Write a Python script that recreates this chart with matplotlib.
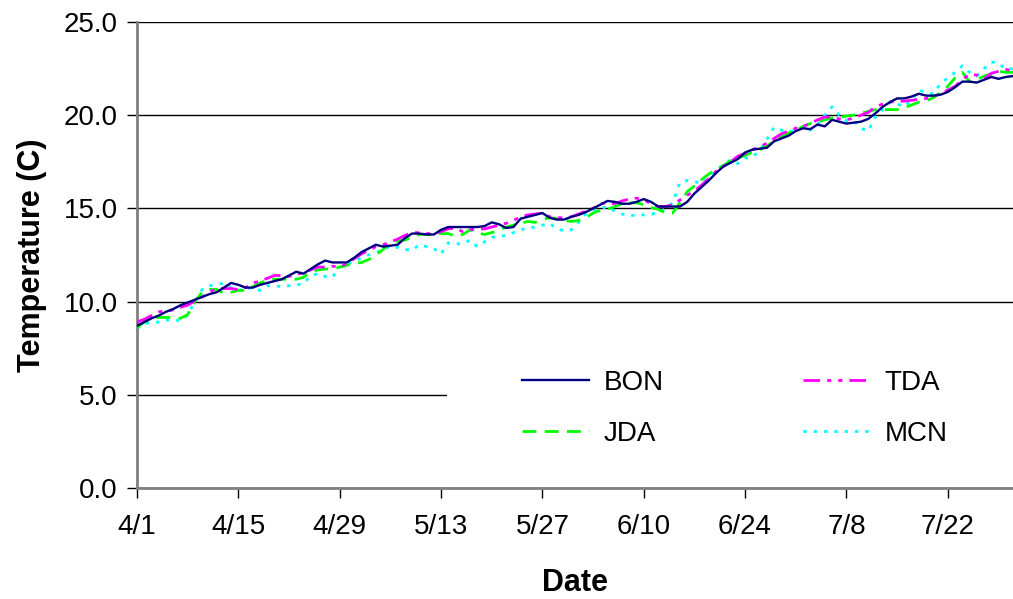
import numpy as np
import matplotlib
matplotlib.use('Agg')
import matplotlib.pyplot as plt
from matplotlib.patches import Rectangle

plt.rcParams['font.family'] = ['Liberation Sans', 'DejaVu Sans']

# days since 4/1
tick_days = [0, 14, 28, 42, 56, 70, 84, 98, 112]
tick_labels = ['4/1', '4/15', '4/29', '5/13', '5/27', '6/10', '6/24', '7/8', '7/22']

BON = [8.7, 8.9, 9.1, 9.25, 9.45, 9.6, 9.8, 9.95, 10.1, 10.25,
       10.4, 10.5, 10.75, 11.0, 10.9, 10.75, 10.75, 10.9, 11.0, 11.1,
       11.2, 11.4, 11.6, 11.5, 11.75, 12.0, 12.2, 12.1, 12.1, 12.1,
       12.35, 12.65, 12.85, 13.05, 12.95, 13.0, 13.05, 13.4, 13.65, 13.65,
       13.6, 13.6, 13.85, 14.0, 14.0, 14.0, 14.0, 14.0, 14.05, 14.25,
       14.15, 13.95, 14.0, 14.45, 14.55, 14.65, 14.75, 14.5, 14.4, 14.4,
       14.55, 14.65, 14.8, 15.0, 15.2, 15.4, 15.35, 15.25, 15.25, 15.35,
       15.5, 15.35, 15.1, 15.1, 15.1, 15.1, 15.35, 15.8, 16.15, 16.5,
       16.9, 17.25, 17.45, 17.65, 18.0, 18.15, 18.2, 18.25, 18.6, 18.75,
       18.9, 19.15, 19.3, 19.25, 19.5, 19.4, 19.75, 19.65, 19.55, 19.6,
       19.65, 19.8, 20.1, 20.45, 20.7, 20.9, 20.9, 21.0, 21.15, 21.05,
       21.05, 21.1, 21.25, 21.5, 21.8, 21.8, 21.75, 21.9, 22.05, 21.95,
       22.05, 22.1]

TDA = [8.9, 9.05, 9.25, 9.45, 9.5, 9.55, 9.7, 9.8, 10.05, 10.25,
       10.5, 10.7, 10.7, 10.7, 10.65, 10.75, 11.0, 11.1, 11.25, 11.4,
       11.4, 11.35, 11.45, 11.55, 11.7, 11.85, 11.85, 11.9, 11.85, 12.05,
       12.3, 12.55, 12.75, 12.95, 13.05, 13.2, 13.35, 13.55, 13.7, 13.7,
       13.65, 13.65, 13.75, 13.9, 13.95, 13.75, 13.85, 13.9, 13.9, 14.0,
       14.1, 14.2, 14.35, 14.55, 14.65, 14.7, 14.75, 14.55, 14.5, 14.5,
       14.55, 14.7, 14.85, 15.0, 15.25, 15.3, 15.25, 15.4, 15.5, 15.55,
       15.45, 15.25, 15.1, 15.1, 15.2, 15.45, 15.7, 15.95, 16.25, 16.6,
       17.0, 17.25, 17.5, 17.8, 17.95, 18.15, 18.3, 18.5, 18.75, 19.0,
       19.15, 19.3, 19.4, 19.55, 19.75, 19.9, 19.9, 19.8, 19.75, 19.85,
       20.0, 20.15, 20.45, 20.6, 20.7, 20.75, 20.75, 20.8, 20.85, 20.9,
       21.0, 21.15, 21.35, 21.55, 21.9, 22.2, 22.15, 21.95, 22.25, 22.35,
       22.45, 22.4]

JDA = [8.6, 8.9, 9.1, 9.15, 9.15, 9.15, 9.1, 9.3, 10.0, 10.5,
       10.65, 10.65, 10.45, 10.5, 10.6, 10.6, 10.8, 11.0, 11.15, 11.2,
       11.2, 11.2, 11.2, 11.3, 11.6, 11.7, 11.75, 11.75, 11.85, 11.95,
       12.05, 12.1, 12.25, 12.5, 12.8, 13.15, 13.25, 13.3, 13.45, 13.6,
       13.6, 13.6, 13.65, 13.65, 13.5, 13.6, 13.85, 13.7, 13.6, 13.7,
       13.85, 14.0, 14.1, 14.2, 14.3, 14.25, 14.4, 14.5, 14.45, 14.35,
       14.3, 14.35, 14.5, 14.75, 14.9, 14.95, 15.1, 15.25, 15.3, 15.3,
       15.2, 15.05, 14.95, 14.75, 14.75, 15.3, 15.9, 16.2, 16.55, 16.85,
       17.1, 17.3, 17.55, 17.7, 17.85, 18.0, 18.15, 18.35, 18.6, 18.85,
       19.05, 19.2, 19.4, 19.55, 19.65, 19.75, 19.85, 19.9, 19.95, 20.0,
       20.1, 20.2, 20.3, 20.3, 20.3, 20.3, 20.4, 20.55, 20.7, 20.75,
       20.95, 21.2, 21.55, 22.0, 22.3, 21.8, 21.9, 22.1, 22.2, 22.35,
       22.3, 22.3]

MCN = [8.55, 8.8, 8.9, 8.9, 9.0, 9.05, 8.95, 9.3, 10.0, 10.65,
       10.85, 10.9, 11.0, 10.75, 10.6, 10.75, 10.7, 10.6, 10.85, 10.85,
       10.8, 10.85, 10.9, 10.95, 11.4, 11.5, 11.35, 11.3, 11.85, 12.0,
       12.15, 12.35, 12.5, 12.65, 12.75, 13.0, 12.9, 12.8, 12.75, 13.05,
       12.95, 12.85, 12.55, 13.15, 13.1, 13.1, 13.3, 12.95, 13.2, 13.45,
       13.5, 13.55, 13.7, 13.85, 13.95, 14.0, 14.1, 14.2, 13.9, 13.8,
       13.85, 14.25, 14.7, 14.9, 15.0, 15.1, 14.85, 14.7, 14.6, 14.65,
       14.65, 14.7, 14.75, 15.0, 15.3, 16.4, 16.5, 16.45, 16.3, 16.7,
       17.0, 17.35, 17.6, 17.4, 17.7, 17.75, 18.1, 18.7, 19.35, 19.2,
       19.1, 19.2, 19.35, 19.2, 19.5, 20.0, 20.45, 20.0, 19.7, 19.7,
       19.3, 19.15, 19.9, 20.3, 20.7, 20.6, 20.45, 20.8, 21.35, 21.2,
       21.15, 21.7, 22.0, 22.3, 22.65, 22.3, 22.1, 22.5, 22.85, 22.8,
       22.45, 22.5]

days = np.arange(len(BON))

fig = plt.figure(figsize=(10.13, 5.99), dpi=100)
ax = fig.add_axes([0.1352, 0.1853, 0.8648, 0.778])

ax.plot(days, BON, c='#000080', ls='-', lw=1.7, label='BON', zorder=5)
ax.plot(days, TDA, c='#FF00FF', ls=(0, (6, 2.5, 1.5, 2.5, 1.5, 2.5)), lw=2, label='TDA', zorder=4)
ax.plot(days, JDA, c='#00FF00', ls=(0, (5, 3)), lw=2, label='JDA', zorder=3)
ax.plot(days, MCN, c='#00FFFF', ls=(0, (1.2, 2.5)), lw=2, label='MCN', zorder=2)

ax.set_xlim(0, 121)
ax.set_ylim(0, 25)
ax.set_yticks([0, 5, 10, 15, 20, 25])
ax.set_yticklabels(['0.0', '5.0', '10.0', '15.0', '20.0', '25.0'])
ax.set_xticks(tick_days)
ax.set_xticklabels(tick_labels)
ax.tick_params(axis='both', labelsize=20, direction='out', length=7, width=1, colors='black')
ax.tick_params(axis='y', pad=7)
ax.tick_params(axis='x', pad=12)

ax.yaxis.grid(True, color='black', lw=1)
ax.set_axisbelow(True)
for s in ['top', 'right']:
    ax.spines[s].set_visible(False)
ax.spines['left'].set_color('#808080')
ax.spines['left'].set_linewidth(2)
ax.spines['bottom'].set_color('#808080')
ax.spines['bottom'].set_linewidth(2)

ax.set_xlabel('Date', fontsize=22, fontweight='bold', labelpad=20)
ax.set_ylabel('Temperature (C)', fontsize=22, fontweight='bold', labelpad=12)

# white legend background covering the grid
ax.add_patch(Rectangle((0.354, 0.012), 0.646, 0.29, transform=ax.transAxes,
                       facecolor='white', edgecolor='none', zorder=1.5))

h, l = ax.get_legend_handles_labels()
order = [0, 2, 1, 3]
ax.legend([h[i] for i in order], [l[i] for i in order], ncol=2, frameon=False,
          loc='upper left', bbox_to_anchor=(0.4235, 0.284), borderpad=0,
          fontsize=20, handlelength=2.4, handletextpad=0.55,
          columnspacing=5.0, labelspacing=0.9)

fig.savefig('out.png', dpi=100)
